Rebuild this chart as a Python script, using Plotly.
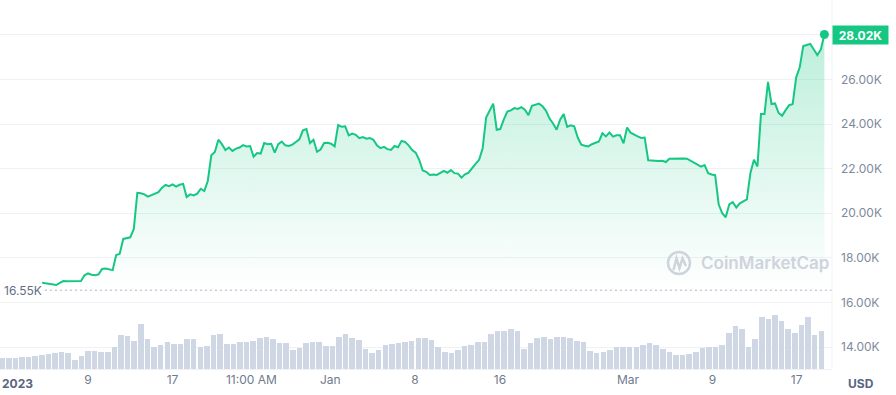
import plotly.graph_objects as go
import pandas as pd

# ---------------- data ----------------
# BTC price in thousands of USD, one value every 8 hours from 2023-01-04 16:00
price_k = [
    16.88, 16.86, 16.85, 16.82, 16.78, 16.88, 16.96, 16.95, 16.95, 16.94,
    16.96, 16.96, 17.22, 17.30, 17.24, 17.22, 17.26, 17.50, 17.52, 17.48,
    17.45, 18.13, 18.18, 18.85, 18.88, 18.92, 19.30, 20.92, 20.90, 20.85,
    20.75, 20.82, 20.90, 20.95, 21.15, 21.27, 21.22, 21.30, 21.20, 21.28,
    21.32, 20.73, 20.85, 20.80, 20.88, 21.10, 21.00, 21.45, 22.60, 22.75,
    23.30, 23.10, 22.84, 22.95, 22.80, 22.90, 22.95, 23.06, 23.00, 23.02,
    22.54, 22.70, 22.68, 23.15, 23.10, 23.12, 22.72, 23.10, 23.22, 23.05,
    23.02, 23.08, 23.20, 23.32, 23.72, 23.78, 23.15, 23.30, 22.76, 22.86,
    23.15, 23.16, 23.12, 23.00, 23.96, 23.88, 23.90, 23.50, 23.58, 23.52,
    23.37, 23.42, 23.35, 23.38, 23.30, 23.05, 22.92, 22.98, 22.88, 22.84,
    23.02, 22.96, 23.25, 23.20, 23.05, 22.84, 22.72, 22.40, 21.92, 21.86,
    21.72, 21.74, 21.72, 21.80, 21.90, 21.82, 21.94, 21.80, 21.78, 21.60,
    21.75, 21.82, 22.05, 22.22, 22.40, 22.90, 24.30, 24.62, 24.92, 23.75,
    23.78, 24.20, 24.56, 24.62, 24.72, 24.68, 24.76, 24.65, 24.40, 24.82,
    24.86, 24.92, 24.80, 24.60, 24.25, 24.03, 23.75, 24.20, 24.45, 23.88,
    23.95, 23.90, 23.40, 23.08, 23.03, 23.00, 23.10, 23.15, 23.22, 23.59,
    23.45, 23.62, 23.44, 23.50, 23.50, 23.14, 23.85, 23.62, 23.52, 23.45,
    23.38, 23.40, 22.38, 22.36, 22.36, 22.35, 22.36, 22.30, 22.45, 22.46,
    22.44, 22.47, 22.46, 22.45, 22.36, 22.28, 22.16, 22.09, 22.16, 21.80,
    21.74, 21.71, 20.40, 20.00, 19.82, 20.40, 20.50, 20.26, 20.45, 20.52,
    20.62, 21.80, 22.40, 22.10, 24.45, 24.45, 25.90, 24.90, 24.93, 24.50,
    24.38, 24.63, 24.85, 24.90, 26.10, 26.55, 27.50, 27.55, 27.60, 27.35,
    27.10, 27.35, 28.02,
]
price_start = "2023-01-04 16:00"
price_step = "8h"

# Traded volume (billion USD), one bar every 15 hours from 2022-12-31 21:00
volume_b = [
    11, 11, 11, 12, 12, 13, 14, 15, 16, 17,
    16, 9, 13, 18, 18, 17, 17, 22, 34, 33,
    28, 45, 30, 22, 24, 27, 25, 25, 30, 30,
    22, 23, 34, 35, 25, 25, 27, 27, 28, 31,
    32, 30, 26, 26, 19, 21, 26, 27, 27, 23,
    23, 32, 35, 31, 29, 20, 16, 19, 24, 25,
    26, 27, 28, 31, 31, 29, 22, 17, 16, 19,
    23, 24, 27, 27, 35, 38, 38, 40, 38, 20,
    26, 31, 32, 30, 32, 32, 31, 28, 27, 18,
    16, 17, 19, 22, 22, 22, 22, 24, 26, 24,
    20, 17, 14, 14, 15, 17, 21, 22, 22, 24,
    36, 43, 40, 22, 30, 52, 50, 54, 48, 40,
    36, 44, 52, 34, 38,
]
volume_start = "2022-12-31 21:00"
volume_step = "15h"
volume_hours = 15

open_price_k = 16.55
open_price_label = "16.55K"
last_price_label = "28.02K"

y_tick_vals = [14, 16, 18, 20, 22, 24, 26, 28]
y_tick_text = ["14.00K", "16.00K", "18.00K", "20.00K", "22.00K", "24.00K", "26.00K", ""]

x_tick_vals = ["2023-01-09 00:00", "2023-01-17 00:00", "2023-01-24 11:00",
               "2023-01-31 22:00", "2023-02-08 22:30", "2023-02-16 23:30",
               "2023-03-01 02:00", "2023-03-09 02:00", "2023-03-17 01:00"]
x_tick_text = ["9", "17", "11:00 AM", "Jan", "8", "16", "Mar", "9", "17"]
year_label = "2023"
currency_label = "USD"

# ---------------- build ----------------
price_time = pd.date_range(price_start, periods=len(price_k), freq=price_step)
volume_time = pd.date_range(volume_start, periods=len(volume_b), freq=volume_step)

GREEN = "#16c784"
GRID = "#eff2f5"
LABEL = "#808a9d"
DARK = "#58667e"
WM = "#cfd3dc"

fig = go.Figure()

fig.add_trace(go.Bar(
    x=volume_time, y=volume_b, yaxis="y2",
    marker=dict(color="#cfd6e4", line=dict(width=0)),
    width=volume_hours * 3600 * 1000 * 0.84,
    hoverinfo="skip", showlegend=False,
))

fig.add_trace(go.Scatter(
    x=price_time, y=[open_price_k] * len(price_k), mode="lines",
    line=dict(width=0, color="rgba(0,0,0,0)"), hoverinfo="skip", showlegend=False,
))

fig.add_trace(go.Scatter(
    x=price_time, y=price_k, mode="lines",
    line=dict(color=GREEN, width=2),
    fill="tonexty",
    fillgradient=dict(type="vertical",
                      colorscale=[[0, "rgba(22,199,132,0)"], [1, "rgba(22,199,132,0.30)"]],
                      start=open_price_k, stop=28.5),
    showlegend=False,
))

fig.add_trace(go.Scatter(
    x=[price_time[-1]], y=[price_k[-1]], mode="markers",
    marker=dict(color=GREEN, size=9), showlegend=False,
))

fig.update_layout(
    width=896, height=395,
    margin=dict(l=0, r=64, t=0, b=26),
    paper_bgcolor="white", plot_bgcolor="white",
    showlegend=False, bargap=0,
    font=dict(family="Inter, sans-serif", size=12, color=LABEL),
    xaxis=dict(
        type="date", range=["2022-12-31 16:11", "2023-03-20 09:18"],
        tickvals=x_tick_vals, ticktext=x_tick_text,
        showgrid=False, ticks="", showline=True, linecolor=GRID, zeroline=False,
        tickfont=dict(size=12, color="#6f7a8e"),
    ),
    yaxis=dict(
        range=[13.013, 29.570], side="right",
        tickvals=y_tick_vals, ticktext=y_tick_text,
        showgrid=True, gridcolor=GRID, zeroline=False, ticks="",
        ticklabelstandoff=8, tickfont=dict(size=12, color=LABEL),
    ),
    yaxis2=dict(range=[0, 369], overlaying="y", visible=False),
)

# dotted opening-price line and its label
fig.add_shape(type="line", xref="paper", yref="y", x0=0.054, x1=1,
              y0=open_price_k, y1=open_price_k,
              line=dict(color="#a7b1c2", width=1, dash="2px,3px"))
fig.add_annotation(xref="paper", yref="y", x=0, y=open_price_k, xanchor="left",
                   yanchor="middle", xshift=2, showarrow=False, text=open_price_label,
                   font=dict(size=12, color="#616e85"))

# right border of the plot area
fig.add_shape(type="line", xref="paper", yref="paper", x0=1, x1=1, y0=0, y1=1,
              line=dict(color=GRID, width=1))

# last price badge
fig.add_annotation(xref="paper", yref="y", x=1, y=price_k[-1], xanchor="left",
                   yanchor="middle", showarrow=False, text="<b>" + last_price_label + "</b>",
                   bgcolor=GREEN, width=55, height=18, borderpad=0,
                   font=dict(size=12, color="white"))

# year and currency labels
fig.add_annotation(xref="paper", yref="paper", x=0, y=0, xanchor="left", yanchor="top",
                   yshift=-5, showarrow=False, text="<b>" + year_label + "</b>",
                   font=dict(size=12, color=DARK))
fig.add_annotation(xref="paper", yref="paper", x=1, y=0, xanchor="left", yanchor="top",
                   xshift=14, yshift=-5, showarrow=False, text="<b>" + currency_label + "</b>",
                   font=dict(size=12, color=DARK))

# watermark
fig.add_shape(type="circle", xref="paper", yref="paper",
              x0=0.8029, x1=0.8293, y0=0.2575, y1=0.3171,
              line=dict(color=WM, width=2.5))
fig.add_shape(type="path", xref="paper", yref="paper",
              path="M 0.8095 0.2683 L 0.8131 0.2995 L 0.8167 0.2737 L 0.8203 0.2995 L 0.8245 0.2791",
              line=dict(color=WM, width=2.5))
fig.add_annotation(xref="paper", yref="paper", x=0.8401, y=0.2873, xanchor="left",
                   yanchor="middle", showarrow=False, text="CoinMarketCap",
                   font=dict(size=17, color=WM, weight=600))

fig.write_html(
    "out.html",
    config={"displayModeBar": False},
    post_script="document.body.style.margin='0';document.body.style.padding='0';"
                "document.body.style.overflow='hidden';",
)
